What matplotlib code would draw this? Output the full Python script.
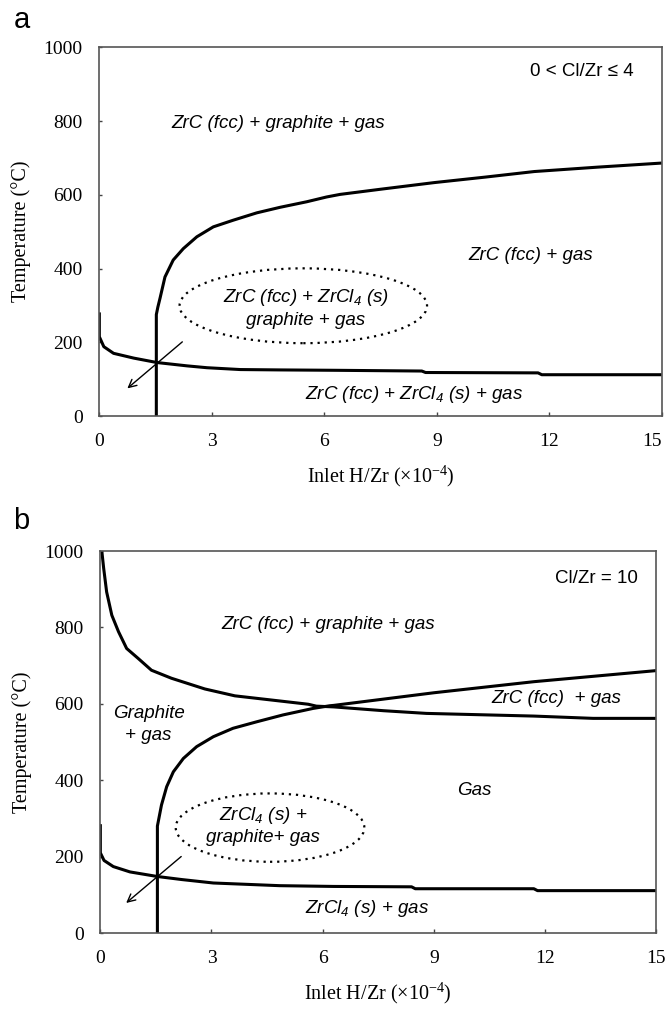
import matplotlib
matplotlib.use("Agg")
import matplotlib.pyplot as plt
from matplotlib.patches import Ellipse

# ---------------- data ----------------
x_ticks = [0, 3, 6, 9, 12, 15]
y_ticks = [0, 200, 400, 600, 800, 1000]

# panel a
a_low_x = [0, 0, 0.12, 0.38, 0.92, 1.54, 2.34, 2.87, 3.76, 4.83, 6.27, 8.6, 8.7, 11.7, 11.8, 15]
a_low_y = [281, 215, 188, 170, 157, 145, 136, 131, 126, 125, 124, 122, 118, 117, 112, 112]
a_up_x = [1.52, 1.52, 1.56, 1.62, 1.75, 1.97, 2.24, 2.6, 3.04, 3.57, 4.2, 4.82, 5.53, 6.06, 6.42,
          7.5, 8.93, 10.3, 11.6, 13.3, 15]
a_up_y = [0, 275, 295, 320, 377, 423, 454, 486, 513, 531, 551, 566, 581, 594, 601,
          615, 633, 648, 663, 675, 686]

# panel b
b_gr_x = [0.04, 0.09, 0.17, 0.31, 0.49, 0.71, 1.02, 1.38, 1.92, 2.82, 3.63, 4.62, 5.61, 5.83,
          6.3, 7.65, 8.8, 11.7, 13.3, 15]
b_gr_y = [1000, 955, 893, 832, 789, 745, 719, 688, 667, 639, 621, 610, 599, 594,
          592, 582, 575, 568, 562, 562]
b_up_x = [1.54, 1.54, 1.58, 1.65, 1.79, 1.97, 2.24, 2.6, 3.05, 3.58, 4.22, 4.93, 5.74, 6.19,
          6.3, 9.0, 11.7, 15]
b_up_y = [0, 280, 300, 335, 383, 422, 457, 488, 514, 536, 553, 571, 588, 595,
          596, 629, 658, 687]
b_low_x = [0, 0, 0.1, 0.35, 0.8, 1.54, 2.2, 3.05, 4.84, 6.3, 8.4, 8.5, 11.7, 11.8, 15]
b_low_y = [285, 210, 190, 174, 160, 148, 140, 131, 124, 122, 121, 116, 116, 111, 111]

SERIF = "Liberation Serif"
SANS = "Liberation Sans"

plt.rcParams["mathtext.fontset"] = "custom"
plt.rcParams["mathtext.rm"] = "Liberation Sans:italic"
plt.rcParams["mathtext.it"] = "Liberation Sans:italic"

fig = plt.figure(figsize=(6.68, 10.10), dpi=100)
ax1 = fig.add_axes([0.1487, 0.5881, 0.842, 0.3651])
ax2 = fig.add_axes([0.1502, 0.0762, 0.832, 0.3782])

def style(ax):
    ax.set_xlim(0, 15)
    ax.set_ylim(0, 1000)
    ax.set_xticks(x_ticks)
    ax.set_yticks(y_ticks)
    ax.set_xticklabels([str(v) for v in x_ticks], fontfamily=SERIF, fontsize=14)
    ax.set_yticklabels([str(v) for v in y_ticks], fontfamily=SERIF, fontsize=14)
    ax.tick_params(axis="x", direction="in", length=3, width=1, color="#444444", pad=12)
    ax.tick_params(axis="y", direction="in", length=2, width=1, color="#444444", pad=12)
    for s in ax.spines.values():
        s.set_color("#555555")
        s.set_linewidth(1.2)
    ax.set_ylabel("Temperature (°C)", fontfamily=SERIF, fontsize=14.5, labelpad=9)
    ax.set_xlabel("Inlet H/Zr (×10$\\mathregular{^{-4}}$)", fontfamily=SERIF, fontsize=14.5, labelpad=10)

lw = 2.2
FS = 13.5
it = dict(fontfamily=SANS, fontstyle="italic", fontsize=FS, ha="center", va="center")

# ---- panel a ----
style(ax1)
ax1.get_xticklabels()[-1].set_horizontalalignment("right")
ax1.plot(a_low_x, a_low_y, color="black", lw=lw, solid_capstyle="butt", solid_joinstyle="round")
ax1.plot(a_up_x, a_up_y, color="black", lw=lw, solid_capstyle="butt", solid_joinstyle="round")
ax1.add_patch(Ellipse((5.44, 299), 6.6, 203, fill=False, ls=(0, (1, 2.2)), lw=1.6, ec="black"))
ax1.annotate("", xy=(0.69, 70), xytext=(2.27, 206),
             arrowprops=dict(arrowstyle="->", lw=1, color="black", mutation_scale=14))
ax1.text(4.77, 794, "ZrC (fcc) + graphite + gas", **it)
ax1.text(14.25, 934, "0 < Cl/Zr ≤ 4", fontfamily=SANS, fontsize=FS, ha="right", va="center")
ax1.text(11.5, 436, "ZrC (fcc) + gas", **it)
ax1.text(5.5, 322, "ZrC (fcc) + ZrCl$\\mathregular{_4}$ (s)", **it)
ax1.text(5.5, 258, "graphite + gas", **it)
ax1.text(8.4, 59, "ZrC (fcc) + ZrCl$\\mathregular{_4}$ (s) + gas", **it)
fig.text(0.021, 0.98, "a", fontfamily=SANS, fontsize=21, ha="left", va="center")

# ---- panel b ----
style(ax2)
ax2.plot(b_gr_x, b_gr_y, color="black", lw=lw, solid_capstyle="butt", solid_joinstyle="round")
ax2.plot(b_up_x, b_up_y, color="black", lw=lw, solid_capstyle="butt", solid_joinstyle="round")
ax2.plot(b_low_x, b_low_y, color="black", lw=lw, solid_capstyle="butt", solid_joinstyle="round")
ax2.add_patch(Ellipse((4.58, 276), 5.09, 179, fill=False, ls=(0, (1, 2.2)), lw=1.6, ec="black"))
ax2.annotate("", xy=(0.64, 74), xytext=(2.24, 205),
             arrowprops=dict(arrowstyle="->", lw=1, color="black", mutation_scale=14))
ax2.text(13.4, 927, "Cl/Zr = 10", fontfamily=SANS, fontsize=FS, ha="center", va="center")
ax2.text(6.14, 809, "ZrC (fcc) + graphite + gas", **it)
ax2.text(1.3, 576, "Graphite", **it)
ax2.text(1.3, 518, "+ gas", **it)
ax2.text(12.3, 615, "ZrC (fcc)  + gas", **it)
ax2.text(10.1, 372, "Gas", **it)
ax2.text(4.4, 309, "ZrCl$\\mathregular{_4}$ (s) +", **it)
ax2.text(4.4, 251, "graphite+ gas", **it)
ax2.text(7.2, 65, "ZrCl$\\mathregular{_4}$ (s) + gas", **it)
fig.text(0.019, 0.484, "b", fontfamily=SANS, fontsize=21, ha="left", va="center")

fig.savefig("out.png", dpi=100)
